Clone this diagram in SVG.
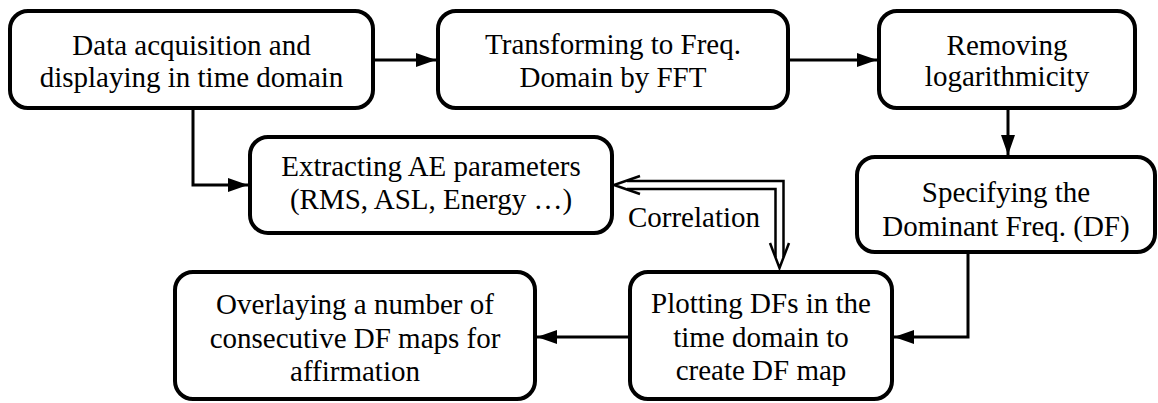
<svg xmlns="http://www.w3.org/2000/svg" width="1158" height="403" viewBox="0 0 1158 403">
<style>
.box{fill:#fff;stroke:#000;stroke-width:4}
.c{fill:none;stroke:#000;stroke-width:3}
.d{fill:none;stroke:#000;stroke-width:2.5}
text{font-family:"Liberation Serif","Times New Roman",serif;font-size:29px;text-anchor:middle;fill:#000}
</style>
<defs>
<marker id="ah" markerWidth="20" markerHeight="14" refX="20" refY="7" orient="auto" markerUnits="userSpaceOnUse">
<path d="M0,0 L20,7 L0,14 z" fill="#000"/>
</marker>
</defs>
<g id="n1"><rect class="box" x="10" y="11" width="363" height="97" rx="18"/>
<text x="191.5" y="55">Data acquisition and</text>
<text x="191.5" y="87">displaying in time domain</text></g>
<g id="n2"><rect class="box" x="438" y="11" width="350" height="97" rx="18"/>
<text x="613" y="54">Transforming to Freq.</text>
<text x="613" y="87">Domain by FFT</text></g>
<g id="n3"><rect class="box" x="879" y="11" width="256" height="97" rx="18"/>
<text x="1007" y="55">Removing</text>
<text x="1007" y="86">logarithmicity</text></g>
<g id="n4"><rect class="box" x="857" y="157" width="298" height="95" rx="18"/>
<text x="1006" y="202">Specifying the</text>
<text x="1006" y="236">Dominant Freq. (DF)</text></g>
<g id="n5"><rect class="box" x="250" y="137" width="362" height="96" rx="18"/>
<text x="431" y="176">Extracting AE parameters</text>
<text x="431" y="209">(RMS, ASL, Energy …)</text></g>
<g id="n6"><rect class="box" x="175" y="272" width="360" height="127" rx="18"/>
<text x="355" y="314">Overlaying a number of</text>
<text x="355" y="347.5">consecutive DF maps for</text>
<text x="355" y="381">affirmation</text></g>
<g id="n7"><rect class="box" x="630" y="272" width="262" height="127" rx="18"/>
<text x="761" y="313">Plotting DFs in the</text>
<text x="761" y="347">time domain to</text>
<text x="761" y="380">create DF map</text></g>
<g id="connectors">
<path class="c" d="M373,60 H436" marker-end="url(#ah)"/>
<path class="c" d="M788,60 H877" marker-end="url(#ah)"/>
<path class="c" d="M1008,108 V155" marker-end="url(#ah)"/>
<path class="c" d="M193,108 V185 H248" marker-end="url(#ah)"/>
<path class="c" d="M968,252 V337 H894" marker-end="url(#ah)"/>
<path class="c" d="M630,337 H537" marker-end="url(#ah)"/>
<path class="d" d="M627,181 H783.5 V257"/>
<path class="d" d="M627,189 H775.5 V257"/>
<polyline class="d" points="640,176 614,185 640,194"/>
<polyline class="d" points="770,243 779.5,268 789,243"/>
<text x="694" y="227">Correlation</text>
</g>
</svg>
